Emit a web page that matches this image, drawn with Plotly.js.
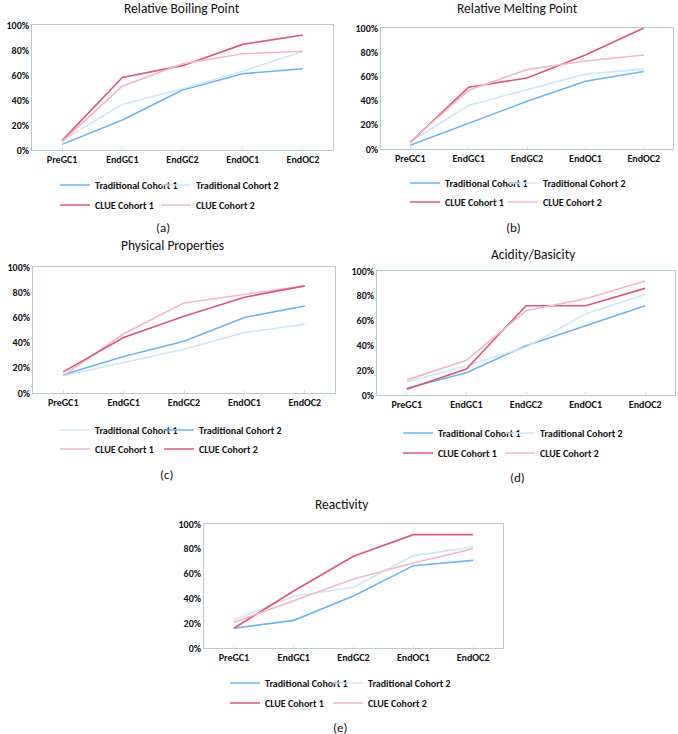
<!DOCTYPE html>
<html>
<head>
<meta charset="utf-8">
<script src="https://cdn.plot.ly/plotly-3.0.1.min.js"></script>
<style>html,body{margin:0;padding:0;background:#fff;}#chart{width:678px;height:734px;}</style>
</head>
<body>
<div id="chart"></div>
<script>
// ---------- DATA ----------
const categories = ["PreGC1", "EndGC1", "EndGC2", "EndOC1", "EndOC2"];
const yTickVals = [0, 20, 40, 60, 80, 100];
const yTickText = ["0%", "20%", "40%", "60%", "80%", "100%"];

// (a) Relative Boiling Point
const boilTrad1 = [4.5, 24, 48, 61, 65];
const boilTrad2 = [7.5, 36.5, 49, 63, 79];
const boilClue1 = [7.5, 58, 67.5, 84.5, 92];
const boilClue2 = [6.7, 51, 69, 77, 79];

// (b) Relative Melting Point
const meltTrad1 = [3, 21.5, 39.4, 56, 64];
const meltTrad2 = [6, 36, 49, 62, 66];
const meltClue1 = [5.5, 51, 58.7, 77.7, 100];
const meltClue2 = [6, 48.5, 65.6, 72.7, 77.7];

// (c) Physical Properties
const physTrad1 = [13.7, 24, 34.7, 48, 54.5];
const physTrad2 = [14.5, 29, 41, 60, 69];
const physClue1 = [13.7, 47, 71.5, 78, 85];
const physClue2 = [16.8, 44, 61, 76, 85];

// (d) Acidity/Basicity
const acidTrad1 = [5.4, 18, 39.7, 56, 72];
const acidTrad2 = [10.5, 23.6, 38.6, 65.4, 81];
const acidClue1 = [4.6, 21, 72, 72, 86];
const acidClue2 = [12, 28, 68, 77.7, 92];

// (e) Reactivity
const reacTrad1 = [15.9, 22.3, 42, 66.4, 70.7];
const reacTrad2 = [22.8, 41.7, 49, 74.5, 81.5];
const reacClue1 = [15.9, 46, 74, 91.4, 91.4];
const reacClue2 = [20.7, 38, 55.6, 68.5, 80];

const seriesNames = ["Traditional Cohort 1", "Traditional Cohort 2", "CLUE Cohort 1", "CLUE Cohort 2"];
const panelTitles = ["Relative Boiling Point", "Relative Melting Point", "Physical Properties", "Acidity/Basicity", "Reactivity"];
const panelCaptions = ["(a)", "(b)", "(c)", "(d)", "(e)"];

// ---------- STYLE ----------
const W = 678, H = 734;
const FONT = "Carlito, Lato, sans-serif";
const MID_BLUE = "#6db4ea", LIGHT_BLUE = "#cfe6f6", DARK_RED = "#d9587b", PINK = "#f2b8ca";
const BORDER = "#b7cccc";
const TXT = "#111";

// panel geometry in pixels
const panels = [
  {data:[boilTrad1, boilTrad2, boilClue1, boilClue2], colors:[MID_BLUE, LIGHT_BLUE, DARK_RED, PINK],
   px:[32,333], py:[25,150], titleY:8, titleX:182, legX:72, legY:[185,205], legGap:101, capX:163, capY:228},
  {data:[meltTrad1, meltTrad2, meltClue1, meltClue2], colors:[MID_BLUE, LIGHT_BLUE, DARK_RED, PINK],
   px:[381,673], py:[28,149], titleY:8, titleX:517, legX:422, legY:[183,202], legGap:98, capX:513, capY:227},
  {data:[physTrad1, physTrad2, physClue1, physClue2], colors:[LIGHT_BLUE, MID_BLUE, PINK, DARK_RED],
   px:[33,335], py:[267,393], titleY:246, titleX:172, legX:72, legY:[430,449], legGap:104, capX:166, capY:474},
  {data:[acidTrad1, acidTrad2, acidClue1, acidClue2], colors:[MID_BLUE, LIGHT_BLUE, DARK_RED, PINK],
   px:[377,675], py:[271,395], titleY:254, titleX:533, legX:415, legY:[433,453], legGap:102, capX:517, capY:477},
  {data:[reacTrad1, reacTrad2, reacClue1, reacClue2], colors:[MID_BLUE, LIGHT_BLUE, DARK_RED, PINK],
   px:[204,503], py:[524,648], titleY:504, titleX:342, legX:242, legY:[683,703], legGap:103, capX:340, capY:727}
];

const traces = [];
const layout = {
  width: W, height: H,
  margin: {l:0, r:0, t:0, b:0},
  paper_bgcolor: "#ffffff", plot_bgcolor: "#ffffff",
  font: {family: FONT, size: 10, color: TXT},
  showlegend: true,
  annotations: []
};

let legendCount = 0;
panels.forEach((p, i) => {
  const n = i + 1;
  const xa = n === 1 ? "xaxis" : "xaxis" + n;
  const ya = n === 1 ? "yaxis" : "yaxis" + n;
  const xr = n === 1 ? "x" : "x" + n;
  const yr = n === 1 ? "y" : "y" + n;

  layout[xa] = {
    domain: [p.px[0] / W, p.px[1] / W], anchor: yr,
    type: "category", range: [-0.5, 4.5],
    showgrid: false, zeroline: false,
    showline: true, linecolor: BORDER, linewidth: 1, mirror: true,
    ticks: "inside", ticklen: 3, tickcolor: "#d8e2e2",
    tickfont: {family: FONT, size: 10, color: TXT, weight: "bold"},
    fixedrange: true
  };
  layout[ya] = {
    domain: [1 - p.py[1] / H, 1 - p.py[0] / H], anchor: xr,
    range: [0, 100], tickmode: "array", tickvals: yTickVals, ticktext: yTickText,
    showgrid: false, zeroline: false,
    showline: true, linecolor: BORDER, linewidth: 1, mirror: true,
    ticks: "", tickfont: {family: FONT, size: 10, color: TXT, weight: "bold"},
    fixedrange: true
  };

  p.data.forEach((vals, k) => {
    legendCount += 1;
    const lg = legendCount === 1 ? "legend" : "legend" + legendCount;
    const col = k % 2, row = Math.floor(k / 2);
    layout[lg] = {
      orientation: "h", x: (p.legX + col * p.legGap - 17) / W, xanchor: "left",
      y: 1 - p.legY[row] / H, yanchor: "middle",
      bgcolor: "rgba(0,0,0,0)", borderwidth: 0,
      itemwidth: 30,
      font: {family: FONT, size: 10, color: TXT, weight: "bold"}
    };
    traces.push({
      type: "scatter", mode: "lines",
      x: categories, y: vals,
      xaxis: xr, yaxis: yr,
      name: seriesNames[k],
      legend: lg,
      line: {color: p.colors[k], width: 1.6},
      hoverinfo: "skip"
    });
  });

  layout.annotations.push({
    text: panelTitles[i], xref: "paper", yref: "paper",
    x: p.titleX / W, y: 1 - p.titleY / H, xanchor: "center", yanchor: "middle",
    showarrow: false, font: {family: FONT, size: 13.5, color: TXT}
  });
  layout.annotations.push({
    text: panelCaptions[i], xref: "paper", yref: "paper",
    x: p.capX / W, y: 1 - p.capY / H, xanchor: "center", yanchor: "middle",
    showarrow: false, font: {family: FONT, size: 13, color: TXT}
  });
});

Plotly.newPlot("chart", traces, layout, {staticPlot: true, displayModeBar: false});
</script>
</body>
</html>
